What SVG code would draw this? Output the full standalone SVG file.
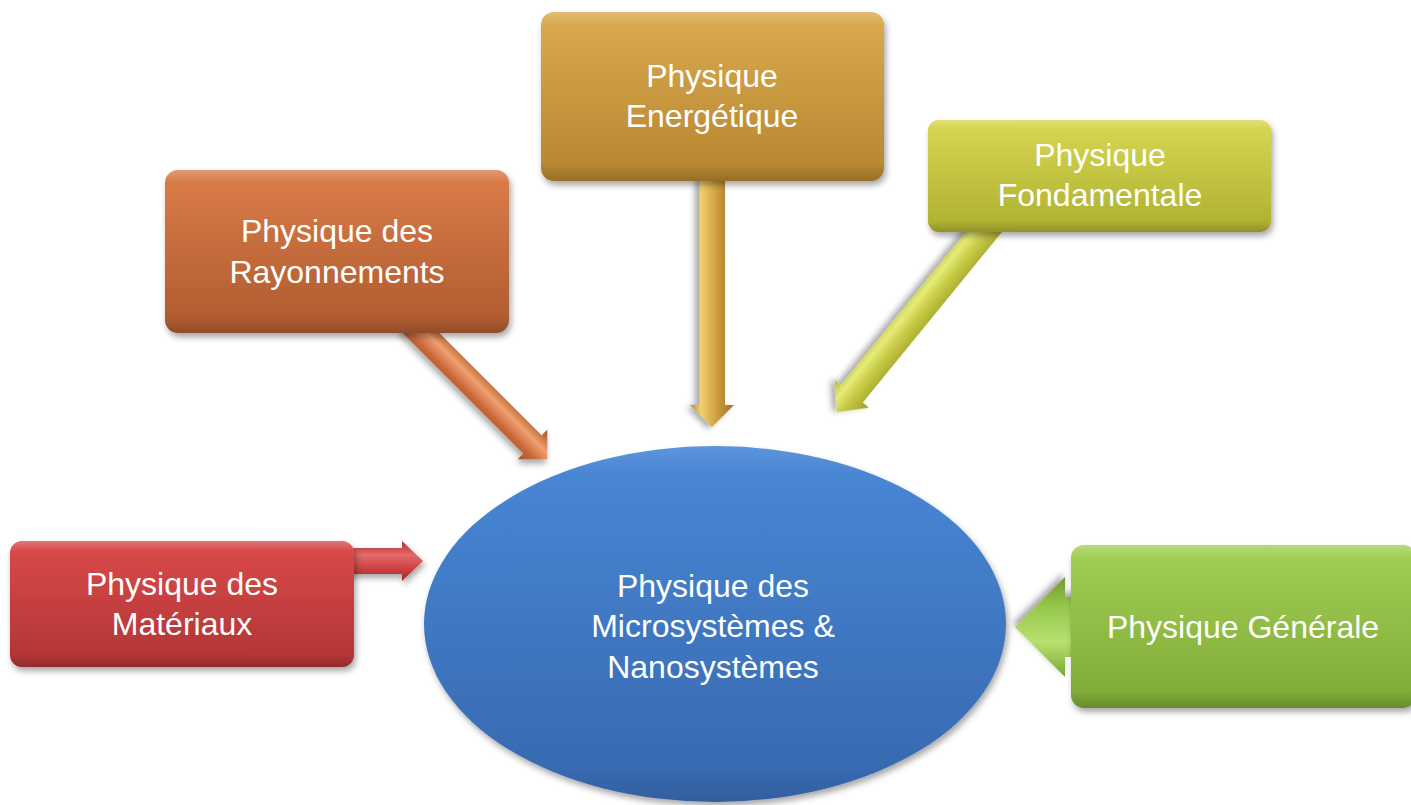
<svg xmlns="http://www.w3.org/2000/svg" width="1411" height="805" viewBox="0 0 1411 805">
<defs>
<filter id="sh" x="-20%" y="-20%" width="140%" height="150%">
<feDropShadow dx="2" dy="4" stdDeviation="3" flood-color="#000" flood-opacity="0.35"/>
</filter>
<linearGradient id="bevel" x1="0" y1="0" x2="0" y2="1">
<stop offset="0" stop-color="#fff" stop-opacity="0.25"/>
<stop offset="0.08" stop-color="#fff" stop-opacity="0.03"/>
<stop offset="0.9" stop-color="#000" stop-opacity="0.03"/>
<stop offset="1" stop-color="#000" stop-opacity="0.2"/>
</linearGradient>
<linearGradient id="gEn" x1="0" y1="0" x2="0" y2="1"><stop offset="0" stop-color="#d9a84a"/><stop offset="1" stop-color="#bb8a32"/></linearGradient>
<linearGradient id="gRa" x1="0" y1="0" x2="0" y2="1"><stop offset="0" stop-color="#d97843"/><stop offset="1" stop-color="#b35e31"/></linearGradient>
<linearGradient id="gFo" x1="0" y1="0" x2="0" y2="1"><stop offset="0" stop-color="#d6d64c"/><stop offset="1" stop-color="#b3b533"/></linearGradient>
<linearGradient id="gMa" x1="0" y1="0" x2="0" y2="1"><stop offset="0" stop-color="#d94545"/><stop offset="1" stop-color="#b53636"/></linearGradient>
<linearGradient id="gGe" x1="0" y1="0" x2="0" y2="1"><stop offset="0" stop-color="#a0ce50"/><stop offset="1" stop-color="#82ae38"/></linearGradient>
<linearGradient id="gEl" x1="0" y1="0" x2="0" y2="1"><stop offset="0" stop-color="#4686d6"/><stop offset="1" stop-color="#3769b0"/></linearGradient>
<linearGradient id="aEn" x1="0" y1="0" x2="0" y2="1"><stop offset="0" stop-color="#9a7226"/><stop offset="0.35" stop-color="#c99a3c"/><stop offset="0.75" stop-color="#f2cf6c"/><stop offset="1" stop-color="#b88a32"/></linearGradient>
<linearGradient id="aRa" x1="0" y1="0" x2="0" y2="1"><stop offset="0" stop-color="#9a4c22"/><stop offset="0.4" stop-color="#f0a070"/><stop offset="0.7" stop-color="#c8693a"/><stop offset="1" stop-color="#a0522a"/></linearGradient>
<linearGradient id="aFo" x1="0" y1="0" x2="0" y2="1"><stop offset="0" stop-color="#9a9c22"/><stop offset="0.45" stop-color="#c8cc48"/><stop offset="0.7" stop-color="#e6ec78"/><stop offset="1" stop-color="#b2b632"/></linearGradient>
<linearGradient id="aMa" x1="0" y1="0" x2="0" y2="1"><stop offset="0" stop-color="#a83030"/><stop offset="0.35" stop-color="#e66a6a"/><stop offset="0.7" stop-color="#cc4040"/><stop offset="1" stop-color="#9c2a2a"/></linearGradient>
<linearGradient id="aGe" x1="0" y1="0" x2="0" y2="1"><stop offset="0" stop-color="#7aa832"/><stop offset="0.35" stop-color="#b8e070"/><stop offset="0.7" stop-color="#96c84c"/><stop offset="1" stop-color="#6e9a2c"/></linearGradient>
<style>
.lbl{font-family:"Liberation Sans",Arial,sans-serif;font-size:32px;fill:#fff;text-anchor:middle}
.box{filter:url(#sh)}
.bev{fill:url(#bevel)}
</style>
</defs>
<g id="connectors">
<g transform="translate(712,170) rotate(90)" filter="url(#sh)"><path d="M0,-13 L235,-13 L235,-22 L257,0 L235,22 L235,13 L0,13 Z" fill="url(#aEn)"/></g>
<g transform="translate(408,320) rotate(45)" filter="url(#sh)"><path d="M0,-13 L176,-13 L176,-21 L197,0 L176,21 L176,13 L0,13 Z" fill="url(#aRa)"/></g>
<g transform="translate(996,217) rotate(129.2)" filter="url(#sh)"><path d="M0,-14 L228,-14 L228,-22 L252,0 L228,22 L228,14 L0,14 Z" fill="url(#aFo)"/></g>
<g transform="translate(330,561) rotate(0)" filter="url(#sh)"><path d="M0,-13 L72,-13 L72,-20 L93,0 L72,20 L72,13 L0,13 Z" fill="url(#aMa)"/></g>
<g transform="translate(1090,627) rotate(180)" filter="url(#sh)"><path d="M0,-30 L25,-30 L25,-50 L75,0 L25,50 L25,30 L0,30 Z" fill="url(#aGe)"/></g>
</g>
<g id="center">
<ellipse cx="715" cy="624" rx="291" ry="178" fill="url(#gEl)" class="box"/>
<ellipse cx="715" cy="624" rx="291" ry="178" class="bev" opacity="0.5"/>
<text class="lbl" x="713" y="597">Physique des</text>
<text class="lbl" x="713" y="637">Microsystèmes &amp;</text>
<text class="lbl" x="713" y="678">Nanosystèmes</text>
</g>
<g id="energetique">
<rect x="541" y="12" width="343" height="169" rx="13" fill="url(#gEn)" class="box"/>
<rect x="541" y="12" width="343" height="169" rx="13" class="bev"/>
<text class="lbl" x="712" y="87">Physique</text>
<text class="lbl" x="712" y="127">Energétique</text>
</g>
<g id="rayonnements">
<rect x="165" y="170" width="344" height="163" rx="13" fill="url(#gRa)" class="box"/>
<rect x="165" y="170" width="344" height="163" rx="13" class="bev"/>
<text class="lbl" x="337" y="242">Physique des</text>
<text class="lbl" x="337" y="283">Rayonnements</text>
</g>
<g id="fondamentale">
<rect x="928" y="120" width="343" height="112" rx="11" fill="url(#gFo)" class="box"/>
<rect x="928" y="120" width="343" height="112" rx="11" class="bev"/>
<text class="lbl" x="1100" y="166">Physique</text>
<text class="lbl" x="1100" y="206">Fondamentale</text>
</g>
<g id="materiaux">
<rect x="10" y="541" width="344" height="126" rx="12" fill="url(#gMa)" class="box"/>
<rect x="10" y="541" width="344" height="126" rx="12" class="bev"/>
<text class="lbl" x="182" y="595">Physique des</text>
<text class="lbl" x="182" y="635">Matériaux</text>
</g>
<g id="generale">
<rect x="1071" y="545" width="345" height="163" rx="13" fill="url(#gGe)" class="box"/>
<rect x="1071" y="545" width="345" height="163" rx="13" class="bev"/>
<text class="lbl" x="1243" y="638">Physique Générale</text>
</g>
</svg>
